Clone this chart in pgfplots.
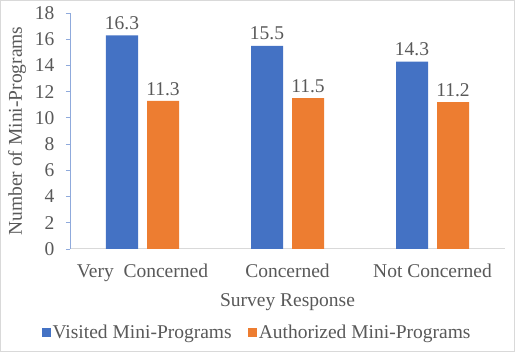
\documentclass[border=0pt]{standalone}
\usepackage{fontspec}
\setmainfont{Liberation Serif}
\usepackage{pgfplots}
\pgfplotsset{compat=1.18}
\definecolor{cblue}{HTML}{4472C4}
\definecolor{corange}{HTML}{ED7D31}
\definecolor{txt}{HTML}{595959}
\definecolor{axblue}{HTML}{8FAADC}
\definecolor{axgray}{HTML}{D9D9D9}
\newcommand{\fs}{\fontsize{19.5}{22}\selectfont}
\begin{document}
\begin{tikzpicture}
\useasboundingbox (0,0) rectangle (515pt,352pt);
\draw[axgray, line width=1pt] (0.5pt,0.5pt) rectangle (514.5pt,351.5pt);
\begin{axis}[
  at={(70pt,103pt)}, anchor=south west,
  scale only axis, width=435pt, height=236pt,
  xmin=-0.5, xmax=2.5, ymin=0, ymax=18,
  ytick={0,2,...,18},
  xtick={0,1,2}, xticklabels={Very~ Concerned, Concerned, Not Concerned},
  ybar=9pt, bar width=32pt,
  axis x line*=bottom, axis y line*=left,
  x axis line style={-, axgray, line width=1pt},
  y axis line style={-, axblue, line width=0.8pt},
  xtick style={draw=none},
  ytick style={axblue, line width=0.8pt},
  tick align=outside, major tick length=4pt,
  /pgf/number format/assume math mode=true,
  ticklabel style={font=\fs, text=txt},
  yticklabel style={xshift=-8pt},
  xticklabel style={yshift=-7pt},
  xlabel={Survey Response}, ylabel={Number of Mini-Programs},
  label style={font=\fs, text=txt},
  xlabel style={yshift=-5pt},
  ylabel style={yshift=2pt},
  nodes near coords,
  nodes near coords style={font=\fs, text=txt, yshift=2pt, /pgf/number format/fixed, /pgf/number format/precision=1, /pgf/number format/fixed zerofill},
  legend style={at={(0.43,-0.352)}, anchor=center, draw=none, font=\fs, text=txt, legend columns=2,
    /tikz/every even column/.append style={column sep=14pt}},
  legend image code/.code={\fill[#1, draw=none] (0pt,-4.5pt) rectangle (9pt,4.5pt);},
  enlargelimits=false, clip=false,
]
\addplot[fill=cblue, draw=none] coordinates {(0,16.3) (1,15.5) (2,14.3)};
\addplot[fill=corange, draw=none] coordinates {(0,11.3) (1,11.5) (2,11.2)};
\legend{Visited Mini-Programs, Authorized Mini-Programs}
\end{axis}
\end{tikzpicture}
\end{document}
